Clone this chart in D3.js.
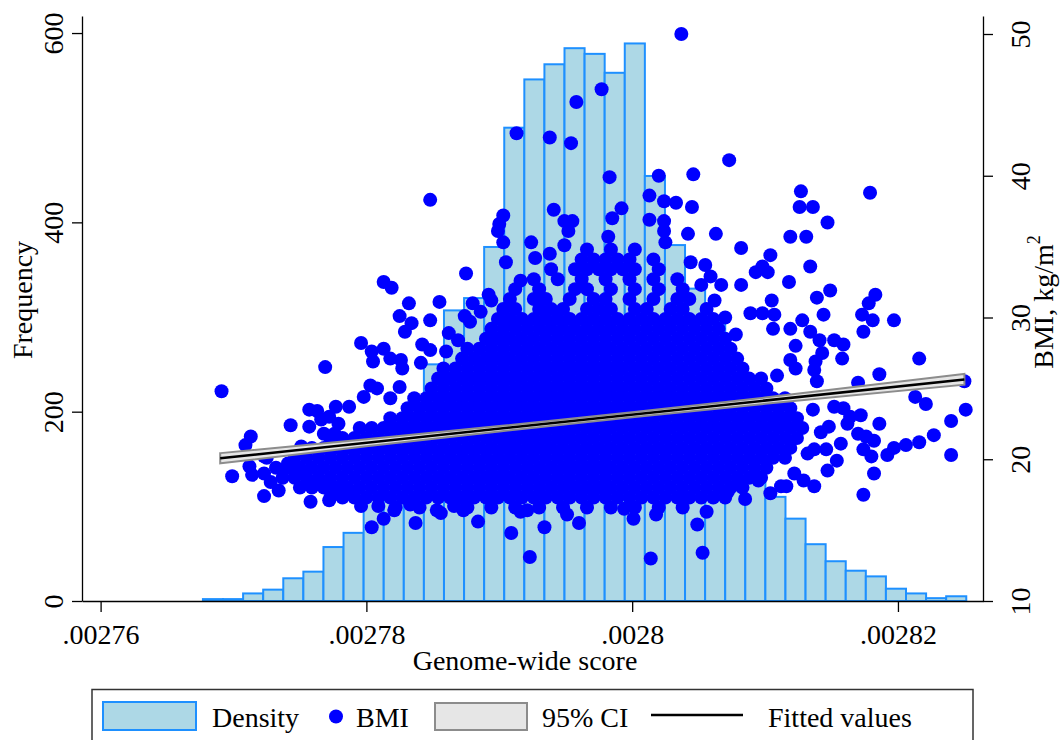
<!DOCTYPE html>
<html>
<head>
<meta charset="utf-8">
<script src="https://cdn.jsdelivr.net/npm/d3@7"></script>
<style>
  body { margin: 0; background: #fff; }
  text { font-family: "Liberation Serif", serif; fill: #000; }
</style>
</head>
<body>
<div id="chart"></div>
<script>
// histogram of the genome-wide score: 38 equal bins, frequency per bin
var binStart = 0.0027677;
var binWidth = 0.0000015116;
var binFreq = [2, 2, 8, 12, 24, 31, 57, 72, 120, 150, 185, 250, 307, 320, 374, 500,
  551, 567, 584, 578, 558, 589, 449, 376, 330, 295, 205, 132, 110, 87, 60, 42,
  32, 26, 13, 8, 3, 5];

// linear fit of BMI on the score, with its 95% confidence band
var fitScore = [0.002769, 0.002825];
var fitBmi = [20.07, 25.63];
var ciScore = [0.002769, 0.00278, 0.00279, 0.0028, 0.00281, 0.002825];
var ciLow = [19.71, 20.91, 21.96, 22.96, 23.91, 25.26];
var ciHigh = [20.43, 21.41, 22.34, 23.32, 24.35, 26.02];

// BMI points. score is given in units of 1e-7 (27950 = .0027950)
// the dense middle of the cloud, read row by row: [bmi, [scores]]
var cloudRows = [
  [16.6, [27822, 27840, 27876, 27894, 27912, 27930, 27948, 27966, 27984, 28002, 28020, 28038]],
  [17.3, [27773, 27782, 27791, 27800, 27809, 27818, 27827, 27836, 27845, 27854, 27863, 27872, 27881, 27890, 27899, 27908, 27917, 27926, 27935, 27944, 27953, 27962, 27971, 27980, 27989, 27998, 28007, 28016, 28025, 28034, 28043, 28052, 28061, 28070]],
  [18.0, [27750, 27759, 27768, 27777, 27786, 27795, 27804, 27813, 27822, 27831, 27840, 27849, 27858, 27867, 27876, 27885, 27894, 27903, 27912, 27921, 27930, 27939, 27948, 27957, 27966, 27975, 27984, 27993, 28002, 28011, 28020, 28029, 28038, 28047, 28056, 28065, 28074, 28083]],
  [18.7, [27737, 27746, 27755, 27764, 27773, 27782, 27791, 27800, 27809, 27818, 27827, 27836, 27845, 27854, 27863, 27872, 27881, 27890, 27899, 27908, 27917, 27926, 27935, 27944, 27953, 27962, 27971, 27980, 27989, 27998, 28007, 28016, 28025, 28034, 28043, 28052, 28061, 28070, 28079, 28088, 28097]],
  [19.4, [27732, 27741, 27750, 27759, 27768, 27777, 27786, 27795, 27804, 27813, 27822, 27831, 27840, 27849, 27858, 27867, 27876, 27885, 27894, 27903, 27912, 27921, 27930, 27939, 27948, 27957, 27966, 27975, 27984, 27993, 28002, 28011, 28020, 28029, 28038, 28047, 28056, 28065, 28074, 28083, 28092, 28101]],
  [20.1, [27746, 27755, 27764, 27773, 27782, 27791, 27800, 27809, 27818, 27827, 27836, 27845, 27854, 27863, 27872, 27881, 27890, 27899, 27908, 27917, 27926, 27935, 27944, 27953, 27962, 27971, 27980, 27989, 27998, 28007, 28016, 28025, 28034, 28043, 28052, 28061, 28070, 28079, 28088, 28097, 28106, 28115]],
  [20.8, [27759, 27768, 27777, 27786, 27795, 27804, 27813, 27822, 27831, 27840, 27849, 27858, 27867, 27876, 27885, 27894, 27903, 27912, 27921, 27930, 27939, 27948, 27957, 27966, 27975, 27984, 27993, 28002, 28011, 28020, 28029, 28038, 28047, 28056, 28065, 28074, 28083, 28092, 28101, 28110, 28119]],
  [21.5, [27773, 27782, 27791, 27800, 27809, 27818, 27827, 27836, 27845, 27854, 27863, 27872, 27881, 27890, 27899, 27908, 27917, 27926, 27935, 27944, 27953, 27962, 27971, 27980, 27989, 27998, 28007, 28016, 28025, 28034, 28043, 28052, 28061, 28070, 28079, 28088, 28097, 28106, 28115, 28124]],
  [22.2, [27795, 27804, 27813, 27822, 27831, 27840, 27849, 27858, 27867, 27876, 27885, 27894, 27903, 27912, 27921, 27930, 27939, 27948, 27957, 27966, 27975, 27984, 27993, 28002, 28011, 28020, 28029, 28038, 28047, 28056, 28065, 28074, 28083, 28092, 28101, 28110, 28119, 28128]],
  [22.9, [27818, 27827, 27836, 27845, 27854, 27863, 27872, 27881, 27890, 27899, 27908, 27917, 27926, 27935, 27944, 27953, 27962, 27971, 27980, 27989, 27998, 28007, 28016, 28025, 28034, 28043, 28052, 28061, 28070, 28079, 28088, 28097, 28106, 28115, 28124]],
  [23.6, [27831, 27840, 27849, 27858, 27867, 27876, 27885, 27894, 27903, 27912, 27921, 27930, 27939, 27948, 27957, 27966, 27975, 27984, 27993, 28002, 28011, 28020, 28029, 28038, 28047, 28056, 28065, 28074, 28083, 28092, 28101, 28110, 28119]],
  [24.3, [27836, 27845, 27854, 27863, 27872, 27881, 27890, 27899, 27908, 27917, 27926, 27935, 27944, 27953, 27962, 27971, 27980, 27989, 27998, 28007, 28016, 28025, 28034, 28043, 28052, 28061, 28070, 28079, 28088, 28097, 28106, 28115]],
  [25.0, [27849, 27858, 27867, 27876, 27885, 27894, 27903, 27912, 27921, 27930, 27939, 27948, 27957, 27966, 27975, 27984, 27993, 28002, 28011, 28020, 28029, 28038, 28047, 28056, 28065, 28074, 28083, 28092, 28101]],
  [25.7, [27854, 27863, 27872, 27881, 27890, 27899, 27908, 27917, 27926, 27935, 27944, 27953, 27962, 27971, 27980, 27989, 27998, 28007, 28016, 28025, 28034, 28043, 28052, 28061, 28070, 28079, 28088, 28097]],
  [26.4, [27858, 27867, 27876, 27885, 27894, 27903, 27912, 27921, 27930, 27939, 27948, 27957, 27966, 27975, 27984, 27993, 28002, 28011, 28020, 28029, 28038, 28047, 28056, 28065, 28074, 28083]],
  [27.1, [27872, 27881, 27890, 27899, 27908, 27917, 27926, 27935, 27944, 27953, 27962, 27971, 27980, 27989, 27998, 28007, 28016, 28025, 28034, 28043, 28052, 28061, 28070, 28079]],
  [27.8, [27876, 27885, 27894, 27903, 27912, 27921, 27930, 27939, 27948, 27957, 27966, 27975, 27984, 27993, 28002, 28011, 28020, 28029, 28038, 28047, 28056, 28065, 28074]],
  [28.5, [27890, 27899, 27908, 27917, 27926, 27935, 27944, 27953, 27962, 27971, 27980, 27989, 27998, 28007, 28016, 28025, 28034, 28043, 28052, 28061, 28070]],
  [29.2, [27894, 27903, 27912, 27921, 27930, 27939, 27948, 27957, 27966, 27975, 27984, 27993, 28002, 28011, 28020, 28029, 28038, 28047, 28056, 28065]],
  [29.9, [27899, 27908, 27917, 27926, 27935, 27944, 27953, 27962, 27971, 27980, 27989, 27998, 28007, 28016, 28025, 28034, 28043, 28052, 28061]],
  [30.6, [27903, 27912, 27930, 27939, 27948, 27966, 27975, 27984, 28002, 28011, 28029, 28038, 28056]],
  [31.3, [27908, 27926, 27935, 27953, 27971, 27980, 27998, 28016, 28034, 28043]],
  [32.0, [27912, 27930, 27957, 27966, 27984, 28002, 28020, 28038]],
  [32.7, [27926, 27944, 27962, 27980, 27998, 28016, 28034]],
  [33.4, [27939, 27957, 27966, 27975, 27984, 27993, 28002, 28020]],
  [34.1, [27962, 27971, 27980, 27989, 27998, 28016]],
  [34.8, [27966, 27984, 28002]]
];

// the scattered points around the cloud: [score, bmi]
var bmiOutliers = [
  [28037, 50.0], [27977, 46.1], [27958, 45.2], [27913, 43.0], [27938, 42.7], [27954, 42.3],
  [28073, 41.1], [27983, 39.9], [28020, 40.0], [28046, 40.1], [28127, 38.9], [28179, 38.8],
  [27848, 38.3], [28013, 38.6], [28024, 38.2], [28033, 38.1], [28045, 37.8], [27941, 37.6],
  [27992, 37.7], [28126, 37.8], [28136, 37.8], [27985, 37.0], [28013, 36.9], [28024, 36.8],
  [28147, 36.7], [27903, 37.2], [27900, 36.6], [27899, 36.1], [27903, 35.3], [27924, 35.3],
  [27949, 36.8], [27955, 36.8], [27952, 36.1], [27949, 35.1], [28024, 36.1], [28025, 35.3],
  [28042, 35.9], [27982, 35.7], [28063, 35.9], [28119, 35.7], [28131, 35.7], [28082, 34.9],
  [27938, 34.5], [28104, 34.4], [28134, 33.6], [28098, 33.6], [28093, 33.2], [28102, 33.2],
  [28055, 33.7], [28059, 32.9], [28067, 32.3], [28082, 32.3], [28118, 32.5], [28149, 31.9],
  [28139, 31.4], [28183, 31.6], [28178, 31.0], [28062, 31.2], [28105, 31.2], [28089, 30.3],
  [28098, 30.3], [28107, 30.2], [28128, 29.8], [28144, 30.2], [28173, 30.2], [28197, 29.8],
  [28181, 29.8], [28174, 29.0], [28106, 29.2], [28119, 29.2], [28134, 29.0], [28141, 28.4],
  [28152, 28.4], [28159, 28.1], [28158, 27.1], [28123, 28.0], [28143, 27.5], [28138, 26.9],
  [28137, 26.3], [28119, 27.0], [28123, 26.4], [28109, 25.9], [28216, 27.1], [28186, 26.0],
  [28139, 25.5], [28170, 25.4], [28250, 25.5], [28213, 24.4], [28221, 23.9], [28251, 23.5],
  [28240, 22.7], [28186, 22.5], [28227, 21.7], [28216, 21.2], [28206, 21.0], [28197, 20.8],
  [28192, 20.3], [28240, 20.3], [28182, 19.0], [28174, 17.5], [28174, 20.7], [28180, 20.2],
  [28170, 21.8], [28176, 21.6], [28182, 21.3], [28154, 19.9], [28162, 22.5], [28164, 23.0],
  [28172, 23.1], [28152, 23.7], [28159, 23.6], [28137, 20.7], [28146, 20.7], [28132, 20.4],
  [28147, 19.2], [28137, 18.1], [28129, 18.5], [28122, 19.0], [28104, 17.6], [28112, 18.1],
  [28142, 21.9], [28148, 22.3], [28136, 23.5], [28157, 21.1], [28116, 18.1], [28085, 17.2],
  [28080, 18.2], [28095, 18.5], [28072, 17.7], [28056, 16.3], [28049, 15.4], [28053, 13.4],
  [28037, 17.4], [28044, 33.9], [28052, 32.3], [28070, 30.0], [28078, 28.8],
  [27691, 24.8], [27769, 26.5], [27875, 33.1], [27813, 32.5], [27819, 32.1], [27832, 31.0],
  [27855, 31.1], [27892, 31.6], [27880, 31.0], [27825, 30.1], [27848, 29.8], [27874, 30.1],
  [27834, 29.6], [27829, 29.0], [27862, 28.9], [27796, 28.2], [27804, 27.6], [27813, 27.8],
  [27805, 26.9], [27818, 27.1], [27826, 27.0], [27827, 26.4], [27842, 28.1], [27848, 27.7],
  [27841, 26.8], [27803, 25.2], [27808, 25.0], [27825, 25.1], [27798, 24.4], [27818, 24.3],
  [27757, 23.5], [27763, 23.4], [27777, 23.7], [27787, 23.7], [27743, 22.4], [27757, 22.3],
  [27772, 23.0], [27779, 22.5], [27768, 21.8], [27713, 21.6], [27709, 21.0], [27725, 20.1],
  [27699, 18.8], [27712, 19.5], [27714, 18.9], [27723, 19.0], [27728, 18.4], [27734, 17.8],
  [27723, 17.4], [27758, 17.0], [27772, 17.1], [27756, 18.5], [27768, 18.1], [27781, 17.8],
  [27788, 17.6], [27796, 16.7], [27809, 16.7], [27804, 15.2], [27813, 15.8], [27821, 16.4],
  [27833, 16.8], [27837, 15.5], [27853, 16.4], [27866, 16.7], [27873, 16.4], [27884, 15.6],
  [27909, 14.8], [27934, 15.2], [27960, 15.5], [27921, 16.4], [27951, 16.1], [27923, 13.1],
  [28001, 15.8], [28014, 13.0], [28018, 16.1], [27856, 16.2], [27916, 16.3], [27994, 16.5],
  [27723, 20.2], [27751, 20.9], [27741, 19.7], [27748, 19.0], [27773, 20.8], [27766, 22.8],
  [27776, 21.8], [27886, 30.4], [27878, 29.7], [27894, 31.2], [27869, 28.4], [27860, 27.6],
  [27916, 32.6], [27905, 33.9], [27927, 34.2]
];

var xTicks = [0.00276, 0.00278, 0.0028, 0.00282];
var xTickLabels = [".00276", ".00278", ".0028", ".00282"];
var freqTicks = [0, 200, 400, 600];
var bmiTicks = [10, 20, 30, 40, 50];

var svgWidth = 1061;
var svgHeight = 740;
var plot = { left: 82, right: 983, top: 16, bottom: 601 };

var svg = d3.select("#chart")
  .append("svg")
  .attr("width", svgWidth)
  .attr("height", svgHeight)
  .style("display", "block");

svg.append("rect").attr("width", svgWidth).attr("height", svgHeight).attr("fill", "#fff");

// scales
var xScale = d3.scaleLinear()
  .domain([0.0027586, 0.0028264])
  .range([plot.left, plot.right]);

var yFreq = d3.scaleLinear()
  .domain([0, 618])
  .range([plot.bottom, plot.top]);

var yBmi = d3.scaleLinear()
  .domain([10, 51.27])
  .range([plot.bottom, plot.top]);

// histogram bars
svg.append("g")
  .selectAll("rect")
  .data(binFreq)
  .enter()
  .append("rect")
  .attr("x", (d, i) => xScale(binStart + i * binWidth))
  .attr("width", xScale(binStart + binWidth) - xScale(binStart))
  .attr("y", d => yFreq(d))
  .attr("height", d => yFreq(0) - yFreq(d))
  .attr("fill", "#add8e6")
  .attr("stroke", "#1e90ff")
  .attr("stroke-width", 2);

// scatter of BMI
var points = [];
cloudRows.forEach(function(row) {
  row[1].forEach(function(s) { points.push([s, row[0]]); });
});
points = points.concat(bmiOutliers);

svg.append("g")
  .selectAll("circle")
  .data(points)
  .enter()
  .append("circle")
  .attr("cx", d => xScale(d[0] * 1e-7))
  .attr("cy", d => yBmi(d[1]))
  .attr("r", 7)
  .attr("fill", "#0000ff");

// confidence band and fitted line
var ciData = ciScore.map((s, i) => ({ s: s, lo: ciLow[i], hi: ciHigh[i] }));
var ciArea = d3.area()
  .x(d => xScale(d.s))
  .y0(d => yBmi(d.lo))
  .y1(d => yBmi(d.hi))
  .curve(d3.curveMonotoneX);

svg.append("path")
  .datum(ciData)
  .attr("d", ciArea)
  .attr("fill", "#e6e6e6")
  .attr("stroke", "#8c8c8c")
  .attr("stroke-width", 2);

var fitLine = d3.line()
  .x(d => xScale(d[0]))
  .y(d => yBmi(d[1]));

svg.append("path")
  .datum(fitScore.map((s, i) => [s, fitBmi[i]]))
  .attr("d", fitLine)
  .attr("fill", "none")
  .attr("stroke", "#000")
  .attr("stroke-width", 2.5);

// axes
function styleAxis(g) {
  g.attr("font-family", "Liberation Serif").attr("font-size", 28);
  g.selectAll(".domain, .tick line").attr("stroke", "#000").attr("stroke-width", 1.3);
  g.selectAll("text").attr("fill", "#000");
}

var xAxis = d3.axisBottom(xScale)
  .tickValues(xTicks)
  .tickFormat((d, i) => xTickLabels[i])
  .tickSize(11)
  .tickSizeOuter(0);

svg.append("g")
  .attr("transform", `translate(0, ${plot.bottom})`)
  .call(xAxis)
  .call(styleAxis)
  .selectAll("text")
  .attr("y", 43)
  .attr("dy", 0);

var leftAxis = d3.axisLeft(yFreq)
  .tickValues(freqTicks)
  .tickSize(10)
  .tickSizeOuter(0);

svg.append("g")
  .attr("transform", `translate(${plot.left}, 0)`)
  .call(leftAxis)
  .call(styleAxis)
  .selectAll("text")
  .attr("x", 0)
  .attr("y", -18.7)
  .attr("dy", 0)
  .attr("text-anchor", "middle")
  .attr("transform", "rotate(-90)");

var rightAxis = d3.axisRight(yBmi)
  .tickValues(bmiTicks)
  .tickSize(10)
  .tickSizeOuter(0);

svg.append("g")
  .attr("transform", `translate(${plot.right}, 0)`)
  .call(rightAxis)
  .call(styleAxis)
  .selectAll("text")
  .attr("x", 0)
  .attr("y", 47)
  .attr("dy", 0)
  .attr("text-anchor", "middle")
  .attr("transform", "rotate(-90)");

// axis titles
svg.append("text")
  .attr("transform", "translate(32, 300) rotate(-90)")
  .attr("text-anchor", "middle")
  .attr("font-size", 28)
  .text("Frequency");

svg.append("text")
  .attr("x", 525)
  .attr("y", 670)
  .attr("text-anchor", "middle")
  .attr("font-size", 28)
  .text("Genome-wide score");

var bmiTitle = svg.append("text")
  .attr("transform", "translate(1053, 302) rotate(-90)")
  .attr("text-anchor", "middle")
  .attr("font-size", 28);
bmiTitle.append("tspan").text("BMI, kg/m");
bmiTitle.append("tspan").attr("dy", -13).attr("font-size", 18).text("2");

// legend
var legend = svg.append("g");
legend.append("rect")
  .attr("x", 92).attr("y", 689.5)
  .attr("width", 881).attr("height", 80)
  .attr("fill", "#fff").attr("stroke", "#333").attr("stroke-width", 1.5);

legend.append("rect")
  .attr("x", 103).attr("y", 702).attr("width", 93).attr("height", 28)
  .attr("fill", "#add8e6").attr("stroke", "#1e90ff").attr("stroke-width", 2);
legend.append("text").attr("x", 212).attr("y", 727).attr("font-size", 28).text("Density");

legend.append("circle").attr("cx", 336).attr("cy", 716.5).attr("r", 7).attr("fill", "#0000ff");
legend.append("text").attr("x", 356).attr("y", 727).attr("font-size", 28).text("BMI");

legend.append("rect")
  .attr("x", 435).attr("y", 703).attr("width", 92).attr("height", 27)
  .attr("fill", "#e6e6e6").attr("stroke", "#8c8c8c").attr("stroke-width", 2);
legend.append("text").attr("x", 542).attr("y", 727).attr("font-size", 28).text("95% CI");

legend.append("line")
  .attr("x1", 651).attr("x2", 743).attr("y1", 715).attr("y2", 715)
  .attr("stroke", "#000").attr("stroke-width", 2.5);
legend.append("text").attr("x", 768).attr("y", 727).attr("font-size", 28).text("Fitted values");
</script>
</body>
</html>
